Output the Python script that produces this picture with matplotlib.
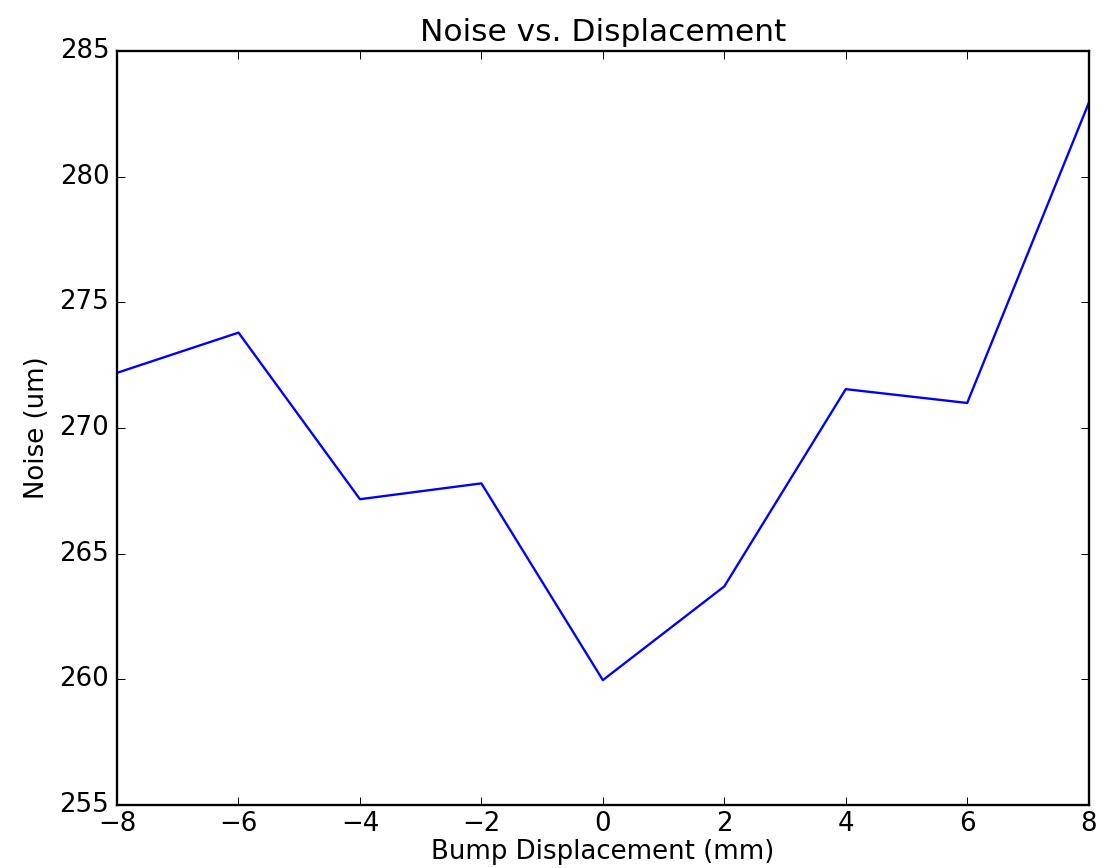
import matplotlib
matplotlib.use("Agg")
import matplotlib.pyplot as plt

displacement = [-8, -6, -4, -2, 0, 2, 4, 6, 8]
noise = [272.2, 273.8, 267.17, 267.8, 259.97, 263.7, 271.55, 271.0, 282.93]

plt.style.use('classic')
plt.rcParams['font.size'] = 13.4
plt.rcParams['axes.linewidth'] = 1.2
plt.rcParams['xtick.major.pad'] = 3
plt.rcParams['ytick.major.pad'] = 4

fig, ax = plt.subplots(figsize=(8, 6.2), dpi=140)
fig.patch.set_facecolor('white')
fig.subplots_adjust(left=0.1045, right=0.972, top=0.941, bottom=0.0726)

ax.plot(displacement, noise, color='b', linewidth=1.2)
ax.set_xlim(-8, 8)
ax.set_ylim(255, 285)
ax.set_xticks(range(-8, 9, 2))
ax.set_yticks(range(255, 286, 5))
ax.set_title('Noise vs. Displacement')
ax.set_xlabel('Bump Displacement (mm)', labelpad=1)
ax.set_ylabel('Noise (um)')

fig.savefig('out.png', dpi=140, facecolor='white')
